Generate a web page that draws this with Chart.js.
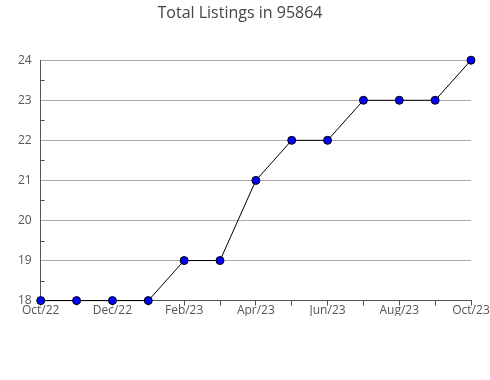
<!DOCTYPE html>
<html>
<head>
<meta charset="utf-8">
<script src="https://cdn.jsdelivr.net/npm/chart.js@4"></script>
<style>
  html, body { margin: 0; padding: 0; background: #fff; }
  #wrap { width: 490px; height: 380px; }
</style>
</head>
<body>
<div id="wrap"><canvas id="myChart"></canvas></div>
<script>
// Datos del grafico
const months = ["Oct/22", "Nov/22", "Dec/22", "Jan/23", "Feb/23", "Mar/23", "Apr/23",
  "May/23", "Jun/23", "Jul/23", "Aug/23", "Sep/23", "Oct/23"];
const listings = [18, 18, 18, 18, 19, 19, 21, 22, 22, 23, 23, 23, 24];
const yMin = 18;
const yMax = 24;

// marcas cortas dentro del area en los valores intermedios
const minorTicks = {
  id: "minorTicks",
  afterDatasetsDraw(chart) {
    const ctx = chart.ctx;
    const y = chart.scales.y;
    ctx.save();
    ctx.strokeStyle = "#555";
    ctx.lineWidth = 1;
    for (let v = yMin + 0.5; v < yMax; v += 1) {
      const py = Math.round(y.getPixelForValue(v)) + 0.5;
      ctx.beginPath();
      ctx.moveTo(y.right, py);
      ctx.lineTo(y.right + 4, py);
      ctx.stroke();
    }
    ctx.restore();
  },
};

const chartContext = document.getElementById("myChart").getContext("2d");
new Chart(chartContext, {
  type: "line",
  data: {
    labels: months,
    datasets: [
      {
        label: "Listings",
        data: listings,
        borderColor: "#000",
        borderWidth: 1,
        backgroundColor: "#0000ff",
        pointBackgroundColor: "#0000ff",
        pointBorderColor: "#000",
        pointBorderWidth: 1,
        pointRadius: 4,
        tension: 0,
        fill: false,
        clip: false,
      },
    ],
  },
  options: {
    responsive: true,
    maintainAspectRatio: false,
    animation: false,
    layout: { padding: { top: 0, right: 19, bottom: 64, left: 9 } },
    plugins: {
      legend: { display: false },
      tooltip: { enabled: false },
      title: {
        display: true,
        text: "Total Listings in 95864",
        color: "#444",
        font: { family: "Open Sans", size: 16, weight: "normal" },
        padding: { top: 4, bottom: 37 },
      },
    },
    scales: {
      x: {
        type: "category",
        offset: false,
        grid: {
          drawOnChartArea: false,
          drawTicks: true,
          tickLength: 5,
          color: "#555",
        },
        border: { color: "#555" },
        ticks: {
          autoSkip: false,
          maxRotation: 0,
          color: "#555",
          padding: -2,
          font: { family: "Open Sans", size: 12 },
          callback: function (value, index) {
            return index % 2 === 0 ? months[index] : "";
          },
        },
      },
      y: {
        min: yMin,
        max: yMax,
        grid: {
          drawTicks: false,
          color: "#aaa",
        },
        border: { color: "#555" },
        ticks: {
          stepSize: 1,
          color: "#555",
          padding: 9,
          font: { family: "Open Sans", size: 12 },
        },
      },
    },
  },
  plugins: [minorTicks],
});
</script>
</body>
</html>
